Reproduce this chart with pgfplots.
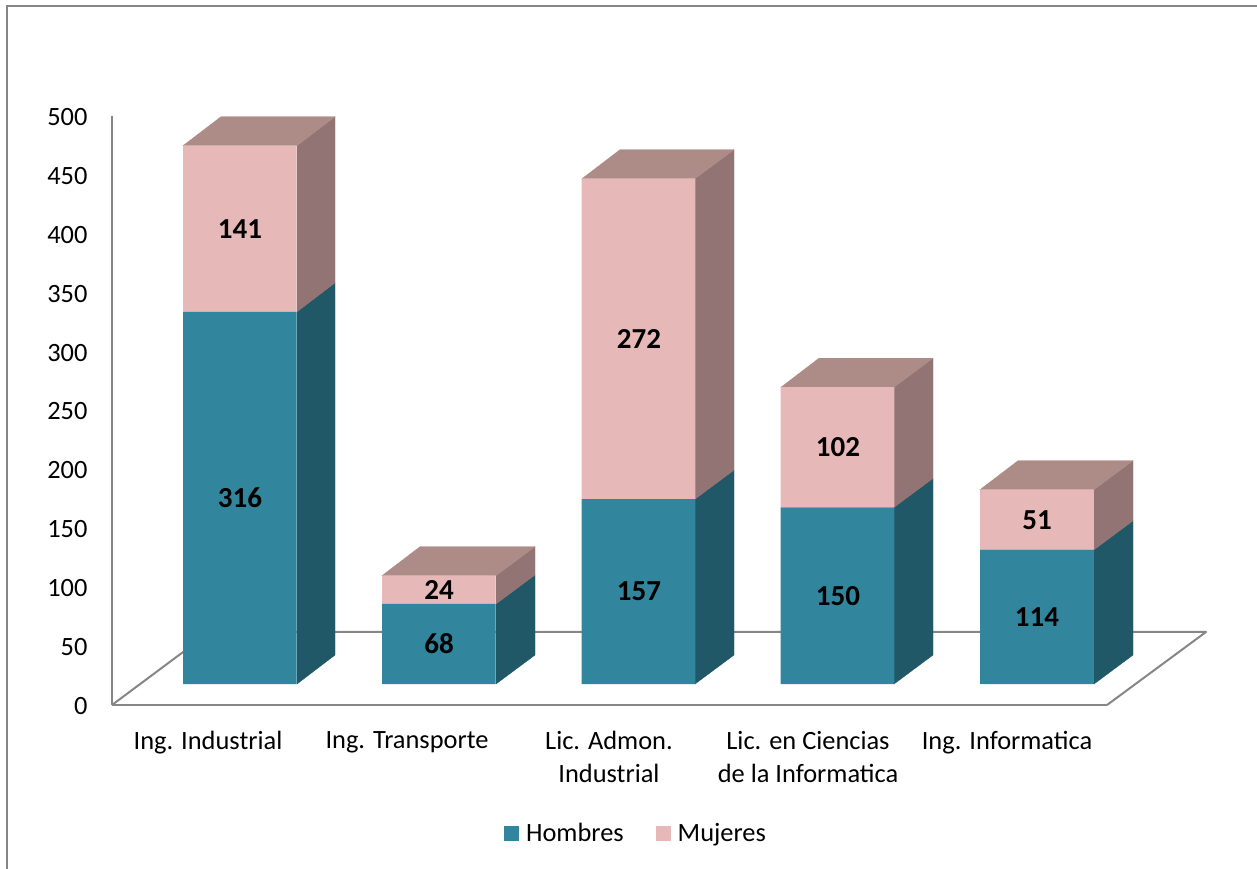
\documentclass[border=0pt]{standalone}
\usepackage{fontspec}
\setmainfont{Carlito}
\usepackage{pgfplots}
\pgfplotsset{compat=1.18}
\definecolor{tealF}{HTML}{31859C}
\definecolor{tealS}{HTML}{205867}
\definecolor{pinkF}{HTML}{E6B9B8}
\definecolor{pinkS}{HTML}{917473}
\definecolor{pinkT}{HTML}{AD8C88}
\definecolor{axisG}{HTML}{868686}
\newcommand{\lblfont}{\fontsize{26.4}{33}\selectfont}
\newcommand{\valfont}{\fontsize{29}{33}\selectfont\bfseries}
\pgfplotsset{
  common/.style={
    scale only axis, width=995pt, height=589pt,
    at={(112pt,164pt)}, anchor=south west,
    xmin=112, xmax=1107, clip=false,
  },
  hidden/.style={common, hide axis, ymin=-17.8, ymax=482.2},
}
\begin{document}
\begin{tikzpicture}
\path[use as bounding box] (0,0) rectangle (1257pt,869pt);
\draw[axisG, line width=2pt] (7pt,0pt) -- (7pt,863pt) -- (1257pt,863pt);
% base axis: the visible scale and the floor
\begin{axis}[common, ymin=0, ymax=500,
  axis x line=bottom, axis y line=left,
  axis line style={axisG, line width=2.2pt, -},
  major tick length=0pt,
  ytick={0,50,...,500},
  xtick={208,407,609,808,1007},
  xticklabels={Ing. Industrial,Ing. Transporte,{Lic. Admon.\\Industrial},{Lic. en Ciencias\\de la Informatica},Ing. Informatica},
  /pgf/number format/assume math mode=true,
  tick label style={font=\lblfont, text=black},
  xticklabel style={align=center, anchor=north, yshift=-23pt},
  yticklabel style={anchor=east, xshift=-21pt, yshift=-1pt},
]
\addplot[axisG, line width=2pt, mark=none, line join=round] coordinates {(112,0) (210,62) (1206,62) (1107,0)};
\end{axis}
% the side and top faces of the bars
\begin{axis}[hidden]
\addplot[fill=tealS,draw=tealS,line width=0.3pt] coordinates {(297,0)(335,24.6)(335,340.6)(297,316)} -- cycle;
\addplot[fill=pinkS,draw=pinkS,line width=0.3pt] coordinates {(297,316)(335,340.6)(335,481.6)(297,457)} -- cycle;
\addplot[fill=pinkT,draw=pinkT,line width=0.3pt] coordinates {(183,457)(221,481.6)(335,481.6)(297,457)} -- cycle;
\addplot[fill=tealS,draw=tealS,line width=0.3pt] coordinates {(496,0)(535,24.6)(535,92.6)(496,68)} -- cycle;
\addplot[fill=pinkS,draw=pinkS,line width=0.3pt] coordinates {(496,68)(535,92.6)(535,116.6)(496,92)} -- cycle;
\addplot[fill=pinkT,draw=pinkT,line width=0.3pt] coordinates {(382,92)(420,116.6)(535,116.6)(496,92)} -- cycle;
\addplot[fill=tealS,draw=tealS,line width=0.3pt] coordinates {(695,0)(734,24.6)(734,181.6)(695,157)} -- cycle;
\addplot[fill=pinkS,draw=pinkS,line width=0.3pt] coordinates {(695,157)(734,181.6)(734,453.6)(695,429)} -- cycle;
\addplot[fill=pinkT,draw=pinkT,line width=0.3pt] coordinates {(582,429)(620,453.6)(734,453.6)(695,429)} -- cycle;
\addplot[fill=tealS,draw=tealS,line width=0.3pt] coordinates {(894,0)(933,24.6)(933,174.6)(894,150)} -- cycle;
\addplot[fill=pinkS,draw=pinkS,line width=0.3pt] coordinates {(894,150)(933,174.6)(933,276.6)(894,252)} -- cycle;
\addplot[fill=pinkT,draw=pinkT,line width=0.3pt] coordinates {(781,252)(819,276.6)(933,276.6)(894,252)} -- cycle;
\addplot[fill=tealS,draw=tealS,line width=0.3pt] coordinates {(1094,0)(1133,24.6)(1133,138.6)(1094,114)} -- cycle;
\addplot[fill=pinkS,draw=pinkS,line width=0.3pt] coordinates {(1094,114)(1133,138.6)(1133,189.6)(1094,165)} -- cycle;
\addplot[fill=pinkT,draw=pinkT,line width=0.3pt] coordinates {(980,165)(1018,189.6)(1133,189.6)(1094,165)} -- cycle;
\end{axis}
% the stacked fronts
\begin{axis}[hidden, ybar stacked, bar width=113.6pt,
  legend columns=2,
  legend style={at={(axis cs:636,-126.5)}, anchor=center, draw=none, fill=none,
    font=\lblfont, inner sep=0pt,
    /tikz/every odd column/.style={column sep=5pt},
    /tikz/every even column/.style={column sep=30pt}},
  legend image code/.code={\fill[#1] (0pt,-7.5pt) rectangle (15pt,7.5pt);},
]
\addplot[fill=tealF, draw=none] coordinates {(239.8,316)(438.8,68)(638.5,157)(837.5,150)(1037,114)};
\addlegendentry{Hombres}
\addplot[fill=pinkF, draw=none] coordinates {(239.8,141)(438.8,24)(638.5,272)(837.5,102)(1037,51)};
\addlegendentry{Mujeres}
\end{axis}
% the value labels
\begin{axis}[hidden]
\addplot[only marks, mark=none, point meta=explicit symbolic, nodes near coords,
  nodes near coords style={anchor=center, font=\valfont, text=black}]
  table[meta=v] {
x y v
240 158 316
439 34 68
639 78.5 157
838 75 150
1037 57 114
240 386.5 141
439 80 24
639 293 272
838 201 102
1037 139.5 51
};
\end{axis}
\end{tikzpicture}
\end{document}
